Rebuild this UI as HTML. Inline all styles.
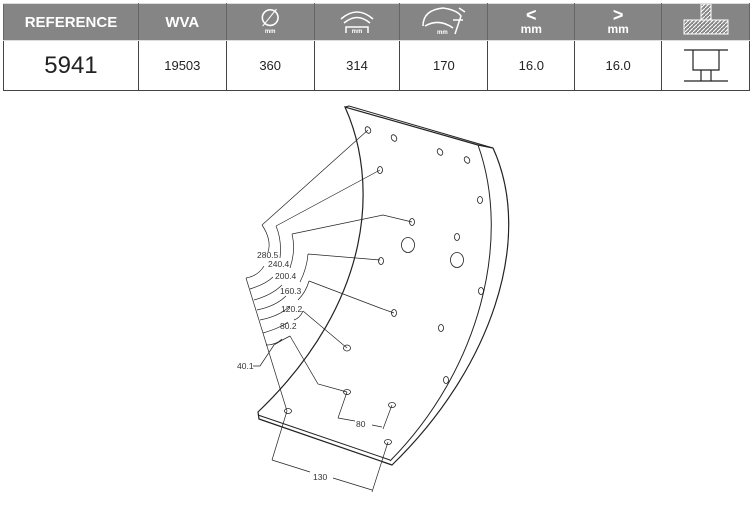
<!DOCTYPE html>
<html><head><style>
body{margin:0;width:753px;height:527px;background:#fff;overflow:hidden;font-family:"Liberation Sans",sans-serif}
table{position:absolute;left:3px;top:3px;border-collapse:collapse;width:747px}
td{border:1px solid #444;text-align:center;padding:0}
tr.h td{background:#858585;color:#fff;font-weight:bold;font-size:15px;height:33px;border-color:#ddd #666}
tr.b td{height:49px;font-size:13px;color:#222}
</style></head><body>
<table>
<colgroup><col style="width:135px"><col style="width:88px"><col style="width:88px"><col style="width:86px"><col style="width:88px"><col style="width:87px"><col style="width:87px"><col style="width:88px"></colgroup>
<tr class="h"><td>REFERENCE</td><td>WVA</td>
<td><div style="font-size:24px;font-weight:normal;line-height:20px">&#8709;</div><div style="font-size:6px">mm</div></td>
<td><svg width="40" height="30"><path d="M4 14 Q20 0 36 14 M7 18 Q20 7 33 18 M9 28 V22 H31 V28" fill="none" stroke="#fff" stroke-width="1.5"/><text x="20" y="28" font-size="6" fill="#fff" text-anchor="middle">mm</text></svg></td>
<td><svg width="50" height="32"><path d="M4 22 Q4 6 24 4 Q38 6 42 12 L36 30 M6 22 Q20 14 34 24 M40 4 L46 8 M34 16 L44 16" fill="none" stroke="#fff" stroke-width="1.5"/><text x="18" y="30" font-size="6" fill="#fff">mm</text></svg></td>
<td><div style="line-height:14px;font-size:18px">&lt;</div><div style="font-size:12px">mm</div></td>
<td><div style="line-height:14px;font-size:18px">&gt;</div><div style="font-size:12px">mm</div></td>
<td><svg width="50" height="32"><defs><pattern id="p" width="4" height="4" patternUnits="userSpaceOnUse"><path d="M0 4 L4 0" stroke="#fff" stroke-width="1"/></pattern></defs><rect x="20" y="0" width="10" height="16" fill="url(#p)" stroke="#fff"/><rect x="3" y="16" width="44" height="14" fill="url(#p)" stroke="#fff"/></svg></td></tr>
<tr class="b"><td style="font-size:24px">5941</td><td>19503</td><td>360</td><td>314</td><td>170</td><td>16.0</td><td>16.0</td>
<td><svg width="50" height="40"><path d="M3 6 H47 M12 6 V26 H38 V6 M20 26 V37 M30 26 V37 M3 37 H47" fill="none" stroke="#222" stroke-width="1.2"/></svg></td></tr>
</table>
<svg style="position:absolute;left:0;top:0" width="753" height="527" fill="none" stroke="#222" stroke-width="1">
<path d="M345 107 C378 180 375 300 258 412 L259 419 L392 465 C490 370 535 240 493 148 L478 145 Z" stroke-width="1.2"/>
<path d="M345 107 L349 106 L493 148"/>
<path d="M478 145 C512 240 480 370 390 461"/>
<path d="M258 415 L390 460"/>
<g stroke-width="0.8">
<ellipse cx="368" cy="130" rx="2.5" ry="3.5" transform="rotate(-30 368 130)"/>
<ellipse cx="394" cy="138" rx="2.5" ry="3.5" transform="rotate(-30 394 138)"/>
<ellipse cx="440" cy="152" rx="2.5" ry="3.5" transform="rotate(-30 440 152)"/>
<ellipse cx="467" cy="160" rx="2.5" ry="3.5" transform="rotate(-30 467 160)"/>
<ellipse cx="380" cy="170" rx="2.5" ry="3.5"/>
<ellipse cx="480" cy="200" rx="2.5" ry="3.5"/>
<ellipse cx="412" cy="222" rx="2.5" ry="3.5"/>
<ellipse cx="457" cy="237" rx="2.5" ry="3.5"/>
<ellipse cx="381" cy="261" rx="2.5" ry="3.5"/>
<ellipse cx="481" cy="291" rx="2.5" ry="3.5"/>
<ellipse cx="394" cy="313" rx="2.5" ry="3.5"/>
<ellipse cx="441" cy="328" rx="2.5" ry="3.5"/>
<ellipse cx="347" cy="348" rx="3.5" ry="3" />
<ellipse cx="446" cy="380" rx="2.5" ry="3.5"/>
<ellipse cx="347" cy="392" rx="3.5" ry="2.5"/>
<ellipse cx="392" cy="405" rx="3.5" ry="2.5"/>
<ellipse cx="288" cy="411" rx="3.5" ry="2.5"/>
<ellipse cx="388" cy="442" rx="3.5" ry="2.5"/>
<ellipse cx="408" cy="245" rx="6.5" ry="7.5"/>
<ellipse cx="457" cy="260" rx="6.5" ry="7.5"/>
</g>
<g stroke-width="0.7">
<path d="M262 225 L368 130 M262 225 Q272 240 268 252"/>
<path d="M276 226 L380 170 M276 226 Q282 240 280 258"/>
<path d="M292 234 L383 215 L412 222 M292 234 Q296 250 290 268"/>
<path d="M308 254 L380 260 M308 254 Q307 268 300 282"/>
<path d="M309 281 L380 308 L394 313 M309 281 Q306 292 298 300"/>
<path d="M303 311 L347 348 M303 311 Q300 318 294 320"/>
<path d="M290 336 L318 384 L347 392 M290 336 Q282 340 274 345"/>
<path d="M246 278 L287 411"/>
<path d="M246 278 Q258 276 264 266 M250 289 Q266 284 273 277 M254 300 Q272 295 282 285 M257 310 Q276 306 286 296 M260 320 Q280 316 290 306 M263 333 Q280 328 288 322 M266 345 Q276 345 282 339"/>
<path d="M274 345 L260 366 L253 366"/>
<path d="M347 392 L338 418 M338 418 L355 421 M372 425 L382 427 M392 405 L383 429"/>
<path d="M287 411 L272 460 M388 442 L372 492 M272 460 L310 472 M333 478 L372 490"/>
</g>
<g fill="#333" stroke="none" font-size="8.5" font-family="Liberation Sans,sans-serif">
<text x="257" y="258">280.5</text><text x="268" y="267">240.4</text><text x="275" y="279">200.4</text>
<text x="280" y="294">160.3</text><text x="281" y="312">120.2</text><text x="280" y="329">80.2</text>
<text x="237" y="369">40.1</text><text x="356" y="427">80</text><text x="313" y="480">130</text>
</g>
</svg>
</body></html>
